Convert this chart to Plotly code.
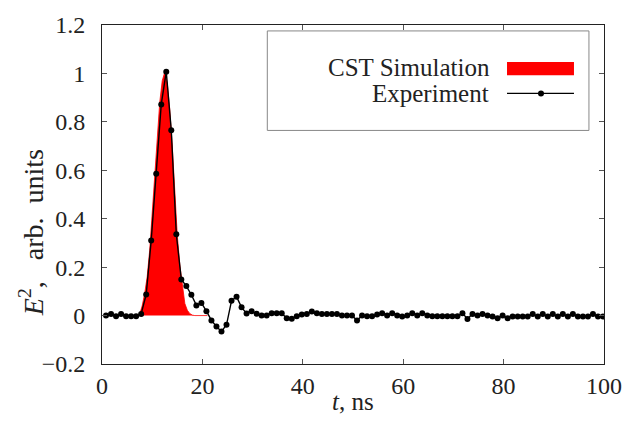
import plotly.graph_objects as go

# ---- data ----
# experiment: sampled every 1 ns starting at 0.8 ns
exp_t = [round(0.8 + k, 1) for k in range(100)]
exp_e2 = [
    0.0, 0.007, -0.003, 0.007, -0.003, -0.003, -0.003, 0.007, 0.087, 0.31,
    0.586, 0.872, 1.007, 0.765, 0.336, 0.149, 0.122, 0.086, 0.042, 0.052,
    0.018, -0.02, -0.045, -0.066, -0.038, 0.061, 0.078, 0.034, 0.009, 0.018,
    0.008, 0.0, 0.0, 0.01, 0.01, 0.01, -0.011, -0.013, -0.003, 0.004,
    0.007, 0.017, 0.01, 0.007, 0.007, 0.007, 0.007, 0.0, 0.0, 0.0,
    -0.02, 0.0, -0.003, -0.003, 0.004, 0.01, 0.0, 0.01, 0.0, -0.004,
    0.0, 0.01, 0.0, 0.01, 0.0, -0.003, -0.003, -0.003, -0.003, -0.003,
    -0.003, 0.01, -0.014, 0.007, 0.0, 0.007, 0.0, -0.004, -0.011, 0.0,
    -0.011, -0.004, -0.004, -0.004, -0.004, 0.007, -0.004, 0.007, -0.004, 0.007,
    -0.004, 0.007, -0.004, 0.007, -0.004, -0.004, -0.004, 0.007, -0.004, -0.004,
]

sim_t = [6.5, 7.0, 7.5, 8.0, 8.5, 9.0, 9.5, 10.0, 10.5, 11.0, 11.5, 12.0, 12.5,
         13.0, 13.5, 14.0, 14.5, 15.0, 15.5, 16.0, 16.5, 17.0, 17.5, 18.0, 18.5, 21.0]
sim_e2 = [0.0, 0.0, 0.005, 0.04, 0.09, 0.16, 0.27, 0.42, 0.59, 0.75, 0.88, 0.97, 1.005,
          0.96, 0.85, 0.70, 0.52, 0.33, 0.21, 0.12, 0.05, 0.022, 0.008, 0.002, 0.0, 0.0]

x_ticks = [0, 20, 40, 60, 80, 100]
x_tick_text = ["0", "20", "40", "60", "80", "100"]
y_ticks = [-0.2, 0, 0.2, 0.4, 0.6, 0.8, 1, 1.2]
y_tick_text = ["\u22120.2", "0", "0.2", "0.4", "0.6", "0.8", "1", "1.2"]

series_names = ["CST Simulation", "Experiment"]

FONT = "Liberation Serif"
TXT = "#222"

fig = go.Figure()
fig.add_trace(go.Scatter(
    x=sim_t, y=sim_e2, mode="lines", fill="tozeroy",
    fillcolor="#ff0000", line=dict(color="#ff0000", width=0.8),
    name=series_names[0], showlegend=False,
))
fig.add_trace(go.Scatter(
    x=exp_t, y=exp_e2, mode="lines+markers",
    line=dict(color="black", width=1.4),
    marker=dict(color="black", size=6),
    name=series_names[1], showlegend=False,
))

axis_common = dict(
    showgrid=False, zeroline=False, showline=True, linecolor="#222",
    linewidth=1, mirror="ticks", ticks="inside", ticklen=5, tickcolor="#555",
    tickfont=dict(family=FONT, size=24, color=TXT),
)
fig.update_xaxes(range=[0, 100], tickvals=x_ticks, ticktext=x_tick_text,
                 ticklabelstandoff=0, **axis_common)
fig.update_yaxes(range=[-0.2, 1.2], tickvals=y_ticks, ticktext=y_tick_text,
                 ticklabelstandoff=11, **axis_common)

# custom legend (text left of symbol)
shapes = [
    dict(type="rect", xref="paper", yref="paper", x0=0.3293, x1=0.970, y0=0.689, y1=0.9825,
         line=dict(color="#888", width=1), fillcolor="white", layer="above"),
    dict(type="rect", xref="paper", yref="paper", x0=0.8068, x1=0.9402, y0=0.8518, y1=0.8909,
         line=dict(width=0), fillcolor="#ff0000", layer="above"),
    dict(type="line", xref="paper", yref="paper", x0=0.8068, x1=0.9402, y0=0.7982, y1=0.7982,
         line=dict(color="black", width=1.4), layer="above"),
    dict(type="circle", xref="paper", yref="paper", xsizemode="pixel", ysizemode="pixel",
         xanchor=0.8745, yanchor=0.7982, x0=-3, x1=3, y0=-3, y1=3,
         fillcolor="black", line=dict(width=0), layer="above"),
]
annotations = [
    dict(text=series_names[0], xref="paper", yref="paper", x=0.7769, y=0.8743,
         xanchor="right", yanchor="middle", showarrow=False,
         font=dict(family=FONT, size=25, color=TXT)),
    dict(text=series_names[1], xref="paper", yref="paper", x=0.7749, y=0.7994,
         xanchor="right", yanchor="middle", showarrow=False,
         font=dict(family=FONT, size=25, color=TXT)),
    dict(text="<i>t</i>, ns", xref="paper", yref="paper", x=0.5, y=-0.112,
         xanchor="center", yanchor="middle", showarrow=False,
         font=dict(family=FONT, size=25, color=TXT)),
    dict(text="<i>E</i><sup>2</sup>,&nbsp;&nbsp;&nbsp;arb.&nbsp;&nbsp;units",
         xref="paper", yref="paper",
         x=-0.1414, y=0.386, xanchor="center", yanchor="middle", showarrow=False,
         textangle=-90, font=dict(family=FONT, size=28, color=TXT)),
]

fig.update_layout(
    width=634, height=436,
    margin=dict(l=102, r=30, t=22, b=72),
    paper_bgcolor="white", plot_bgcolor="white",
    showlegend=False, shapes=shapes, annotations=annotations,
)

fig.write_html("out.html")
